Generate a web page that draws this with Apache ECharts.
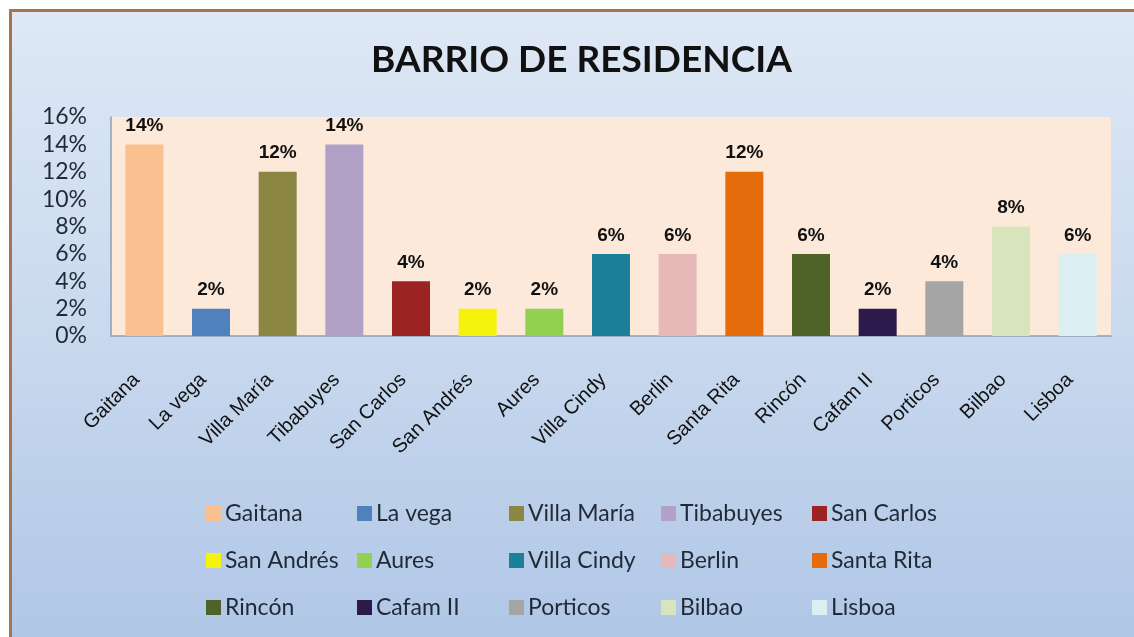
<!DOCTYPE html>
<html>
<head>
<meta charset="utf-8">
<script src="https://cdn.jsdelivr.net/npm/echarts@6/dist/echarts.min.js"></script>
<style>
  html, body { margin: 0; padding: 0; background: #ffffff; overflow: hidden; }
  #frame {
    position: absolute; left: 9px; top: 9px; width: 1140px; height: 640px;
    border: 3px solid #a9734f;
    background: linear-gradient(to bottom, #dee8f5 0%, #c9d9ee 50%, #afc6e6 100%);
  }
  #chart { position: absolute; left: 0; top: 0; width: 1134px; height: 637px; }
</style>
</head>
<body>
<div id="frame"></div>
<div id="chart"></div>
<script>
  // barrios y porcentajes
  var barrios = ['Gaitana', 'La vega', 'Villa María', 'Tibabuyes', 'San Carlos',
                 'San Andrés', 'Aures', 'Villa Cindy', 'Berlin', 'Santa Rita',
                 'Rincón', 'Cafam II', 'Porticos', 'Bilbao', 'Lisboa']
  var porcentajes = [14, 2, 12, 14, 4, 2, 2, 6, 6, 12, 6, 2, 4, 8, 6]
  var colores = ['#fac090', '#4f81bd', '#8c8643', '#b2a1c7', '#9b2423',
                 '#f5f20c', '#92d050', '#1a8199', '#e6b9b8', '#e46c0a',
                 '#4f6228', '#2c1a4c', '#a5a5a5', '#d7e4bc', '#dbeef4']
  var yTicks = { min: 0, max: 16, interval: 2 }

  // cada barrio es una serie para que salga en la leyenda
  var series = barrios.map(function (name, i) {
    var data = porcentajes.map(function (v, j) { return j === i ? v : '-' })
    return {
      name: name,
      type: 'bar',
      stack: 'total',
      barWidth: 38,
      data: data,
      itemStyle: { color: colores[i] },
      label: {
        show: true,
        position: 'top',
        distance: 9,
        formatter: '{c}%',
        fontFamily: 'Liberation Sans',
        fontWeight: 'bold',
        fontSize: 19,
        color: '#111111'
      }
    }
  })

  // leyenda en 5 columnas de 3 filas
  var colLeft = [201, 352, 504, 656, 807]
  var legends = colLeft.map(function (left, c) {
    return {
      orient: 'vertical',
      left: left,
      top: 497,
      itemWidth: 15,
      itemHeight: 15,
      itemGap: 24,
      icon: 'rect',
      data: [barrios[c], barrios[c + 5], barrios[c + 10]],
      textStyle: { fontFamily: 'Lato', fontSize: 23, color: '#1f2a36', padding: [0, 0, 0, -1], lineHeight: 23 }
    }
  })

  var chart = echarts.init(document.getElementById('chart'), null, { renderer: 'canvas' })
  chart.setOption({
    backgroundColor: 'transparent',
    animation: false,
    title: {
      text: 'BARRIO DE RESIDENCIA',
      left: 366,
      top: 37,
      textStyle: { fontFamily: 'Lato', fontWeight: 'bold', fontSize: 37, color: '#111111' }
    },
    legend: legends,
    grid: {
      left: 111, right: 23, top: 117, bottom: 301,
      show: true, backgroundColor: '#fde9d9', borderWidth: 0
    },
    xAxis: {
      type: 'category',
      data: barrios,
      axisTick: { show: false },
      axisLine: { lineStyle: { color: '#8aa0b4', width: 1.5 } },
      axisLabel: {
        rotate: 45,
        interval: 0,
        margin: 33,
        padding: [0, 11, 0, 0],
        fontFamily: 'Liberation Sans',
        fontSize: 20,
        color: '#111111'
      }
    },
    yAxis: {
      type: 'value',
      min: yTicks.min,
      max: yTicks.max,
      interval: yTicks.interval,
      splitLine: { show: false },
      axisTick: { show: false },
      axisLine: { show: true, lineStyle: { color: '#8aa0b4', width: 1.5 } },
      axisLabel: {
        formatter: '{value}%',
        margin: 24,
        fontFamily: 'Lato',
        fontSize: 23,
        color: '#1f2a36'
      }
    },
    series: series
  })
</script>
</body>
</html>
